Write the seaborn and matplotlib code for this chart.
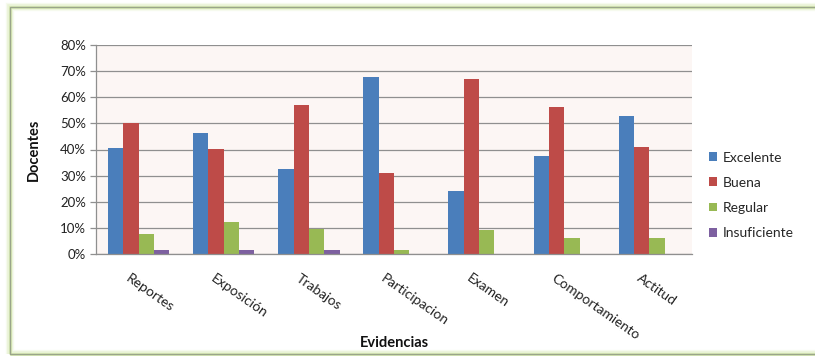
import matplotlib
matplotlib.use("Agg")
import matplotlib.pyplot as plt
import matplotlib.transforms as mtransforms
from matplotlib.patches import Rectangle
import seaborn as sns
import pandas as pd

categorias = ["Reportes", "Exposición", "Trabajos", "Participacion",
              "Examen", "Comportamiento", "Actitud"]
excelente = [40.7, 46.4, 32.6, 67.9, 24.2, 37.6, 52.9]
buena = [50.0, 40.2, 56.9, 31.0, 66.9, 56.1, 41.1]
regular = [7.8, 12.2, 9.4, 1.6, 9.2, 6.1, 6.1]
insuficiente = [1.6, 1.6, 1.6, 0.0, 0.0, 0.0, 0.0]
series = ["Excelente", "Buena", "Regular", "Insuficiente"]
colores = ["#4a7ebb", "#be4b48", "#98b954", "#7d60a0"]
yticks = [0, 10, 20, 30, 40, 50, 60, 70, 80]

rows = []
for nombre, valores in zip(series, [excelente, buena, regular, insuficiente]):
    for cat, v in zip(categorias, valores):
        rows.append({"Evidencias": cat, "Nivel": nombre, "Valor": v})
df = pd.DataFrame(rows)

sns.set_theme(style="white")
plt.rcParams["font.family"] = ["Lato", "DejaVu Sans"]

fig = plt.figure(figsize=(8.15, 3.56), dpi=100)
fig.patch.set_facecolor("white")

# soft green chart frame
for w, a in [(6, 0.15), (4, 0.25), (2, 0.45)]:
    fig.patches.append(Rectangle((10 / 815, 2 / 356), 1.2, 1 - 9 / 356,
                                 transform=fig.transFigure, fill=False,
                                 edgecolor="#c6e08e", linewidth=w, alpha=a))
fig.patches.append(Rectangle((10 / 815, 2 / 356), 1.2, 1 - 9 / 356,
                             transform=fig.transFigure, fill=False,
                             edgecolor="#9aa58a", linewidth=1.0))

ax = fig.add_axes([96 / 815, 1 - 254 / 356, 596 / 815, 209 / 356])
sns.barplot(data=df, x="Evidencias", y="Valor", hue="Nivel",
            hue_order=series, palette=colores, width=0.72, gap=0,
            saturation=1, linewidth=0, ax=ax, legend=True)

ax.set_facecolor("#fcf6f4")
ax.set_ylim(0, 80)
ax.set_xlim(-0.5, len(categorias) - 0.5)
ax.set_yticks(yticks)
ax.set_yticklabels([f"{t}%" for t in yticks], fontsize=9.5, color="#222222")
ax.yaxis.grid(True, color="#8f8f8f", linewidth=0.9)
ax.set_axisbelow(True)
for s in ["top", "right"]:
    ax.spines[s].set_visible(False)
for s in ["left", "bottom"]:
    ax.spines[s].set_color("#8f8f8f")
    ax.spines[s].set_linewidth(0.9)
ax.tick_params(axis="y", left=True, length=4, width=0.9, color="#8f8f8f", pad=3)
ax.tick_params(axis="x", bottom=False, pad=7)

offset = mtransforms.ScaledTranslation(-8 / 100, 0, fig.dpi_scale_trans)
ax.set_xticks(range(len(categorias)))
ax.set_xticklabels(categorias, rotation=-35, ha="left", va="top",
                   rotation_mode="anchor", fontsize=10, color="#222222")
for lab in ax.get_xticklabels():
    lab.set_transform(lab.get_transform() + offset)

ax.set_xlabel("Evidencias", fontsize=10.5, fontweight="bold", color="#111111")
ax.xaxis.set_label_coords(0.5, -0.39)
ax.set_ylabel("Docentes", fontsize=10.5, fontweight="bold", color="#111111")
ax.yaxis.set_label_coords(-0.092, 0.5)

ax.legend(loc="upper left", bbox_to_anchor=(703 / 815, 1 - 146 / 356),
          bbox_transform=fig.transFigure, frameon=False, fontsize=10,
          handlelength=0.6, handleheight=0.6, handletextpad=0.4,
          labelspacing=0.95, borderaxespad=0)

fig.savefig("out.png", dpi=100)
